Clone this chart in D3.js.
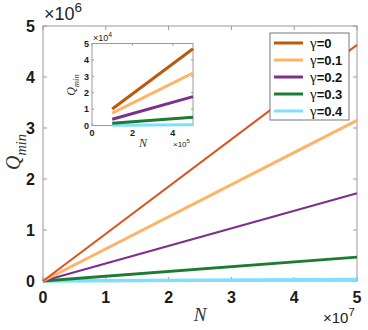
<!DOCTYPE html>
<html>
<head>
<meta charset="utf-8">
<script src="https://d3js.org/d3.v7.min.js"></script>
<style>
  body { margin: 0; background: #fff; }
  text { font-family: "Liberation Sans", Arial, sans-serif; }
</style>
</head>
<body>
<svg width="368" height="330"></svg>
<script>
// main plot: Q_min vs N, straight lines from the origin
var mainN = [0, 5e7];
var mainQ = {
	g0: [0, 4.63e6],
	g1: [0, 3.15e6],
	g2: [0, 1.72e6],
	g3: [0, 0.47e6],
	g4: [0, 0.03e6]
};
// inset: small N range
var insetN = [1e5, 5e5];
var insetQ = {
	g0: [1.01e4, 4.68e4],
	g1: [0.75e4, 3.2e4],
	g2: [0.38e4, 1.76e4],
	g3: [0.14e4, 0.5e4],
	g4: [0.02e4, 0.04e4]
};
var seriesKeys = ["g0", "g1", "g2", "g3", "g4"];
var legendLabels = ["0", "0.1", "0.2", "0.3", "0.4"];
var mainTicksX = [0, 1e7, 2e7, 3e7, 4e7, 5e7];
var mainTicksY = [0, 1e6, 2e6, 3e6, 4e6, 5e6];
var insetTicksX = [0, 2e5, 4e5];
var insetTicksY = [0, 1e4, 2e4, 3e4, 4e4, 5e4];

var mainColors = { g0: "#d9531e", g1: "#ffb366", g2: "#7e2f8e", g3: "#1e7b34", g4: "#80dfff" };
var mainWidths = { g0: 2, g1: 3, g2: 2.2, g3: 2.8, g4: 3.5 };
var insetColors = { g0: "#bb5a0a", g1: "#ffb366", g2: "#7e2f8e", g3: "#1e7b34", g4: "#80dfff" };

var svg = d3.select("svg");
var axisCol = "#9a9a9a";

function drawBox(g, x, y, tx, ty, opt){
	var x0 = x.range()[0], x1 = x.range()[1];
	var y0 = y.range()[0], y1 = y.range()[1];
	g.append("rect")
		.attr("x", x0).attr("y", y1)
		.attr("width", x1 - x0).attr("height", y0 - y1)
		.attr("fill", "#fff")
		.attr("stroke", axisCol)
		.attr("stroke-width", 1);
	var tl = opt.tickLen;
	tx.forEach(function(v){
		g.append("line").attr("x1", x(v)).attr("x2", x(v)).attr("y1", y0).attr("y2", y0 - tl).attr("stroke", axisCol);
		g.append("line").attr("x1", x(v)).attr("x2", x(v)).attr("y1", y1).attr("y2", y1 + tl).attr("stroke", axisCol);
		g.append("text")
			.attr("x", x(v)).attr("y", y0 + opt.xLabOff)
			.attr("text-anchor", "middle")
			.style("font-size", opt.fs + "px").style("font-weight", "bold")
			.attr("fill", "#1a1a1a")
			.text(v / opt.xScale);
	});
	ty.forEach(function(v){
		g.append("line").attr("x1", x0).attr("x2", x0 + tl).attr("y1", y(v)).attr("y2", y(v)).attr("stroke", axisCol);
		g.append("line").attr("x1", x1).attr("x2", x1 - tl).attr("y1", y(v)).attr("y2", y(v)).attr("stroke", axisCol);
		g.append("text")
			.attr("x", x0 - opt.yLabOff).attr("y", y(v))
			.attr("dy", "0.36em")
			.attr("text-anchor", "end")
			.style("font-size", opt.fs + "px").style("font-weight", "bold")
			.attr("fill", "#1a1a1a")
			.text(v / opt.yScale);
	});
}

function expLabel(g, xPos, yPos, exp, fs){
	var t = g.append("text")
		.attr("x", xPos).attr("y", yPos)
		.style("font-size", fs + "px")
		.attr("fill", "#222");
	t.append("tspan").text("\u00d710");
	t.append("tspan").attr("dy", -fs * 0.45).style("font-size", (fs * 0.75) + "px").text(exp);
}

function qLabel(g, xPos, yPos, fs){
	var t = g.append("text")
		.attr("transform", "translate(" + xPos + "," + yPos + ") rotate(-90)")
		.attr("text-anchor", "middle")
		.style("font-family", "'Liberation Serif', serif")
		.style("font-style", "italic")
		.style("font-size", fs + "px")
		.attr("fill", "#333");
	t.append("tspan").text("Q");
	t.append("tspan").attr("dy", fs * 0.3).style("font-size", (fs * 0.72) + "px").text("min");
}

function nLabel(g, xPos, yPos, fs){
	g.append("text")
		.attr("x", xPos).attr("y", yPos)
		.attr("text-anchor", "middle")
		.style("font-family", "'Liberation Serif', serif")
		.style("font-style", "italic")
		.style("font-size", fs + "px")
		.attr("fill", "#333")
		.text("N");
}

// ---- main axes
var x = d3.scaleLinear().domain([0, 5e7]).range([43, 357]);
var y = d3.scaleLinear().domain([0, 5e6]).range([281, 26]);
var main = svg.append("g");
drawBox(main, x, y, mainTicksX, mainTicksY, { tickLen: 4, fs: 16, xLabOff: 22, yLabOff: 8, xScale: 1e7, yScale: 1e6 });

var line = d3.line()
	.x(function(d){ return x(d[0]); })
	.y(function(d){ return y(d[1]); });

seriesKeys.slice().reverse().forEach(function(k){
	var pts = mainN.map(function(n, i){ return [n, mainQ[k][i]]; });
	main.append("path")
		.attr("d", line(pts))
		.attr("fill", "none")
		.attr("stroke", mainColors[k])
		.attr("stroke-width", mainWidths[k]);
});

expLabel(main, 44, 20, "6", 18);
expLabel(main, 323, 323, "7", 15);
nLabel(main, 200, 321, 19);
qLabel(main, 20, 152, 20);

// ---- inset
var xi = d3.scaleLinear().domain([0, 5e5]).range([92, 193]);
var yi = d3.scaleLinear().domain([0, 5e4]).range([125.5, 43.5]);
var inset = svg.append("g");
drawBox(inset, xi, yi, insetTicksX, insetTicksY, { tickLen: 2, fs: 9, xLabOff: 10, yLabOff: 3, xScale: 1e5, yScale: 1e4 });

var lineI = d3.line()
	.x(function(d){ return xi(d[0]); })
	.y(function(d){ return yi(d[1]); });

seriesKeys.slice().reverse().forEach(function(k){
	var pts = insetN.map(function(n, i){ return [n, insetQ[k][i]]; });
	inset.append("path")
		.attr("d", lineI(pts))
		.attr("fill", "none")
		.attr("stroke", insetColors[k])
		.attr("stroke-width", 3);
});

expLabel(inset, 93, 41, "4", 9);
expLabel(inset, 173, 147, "5", 8);
nLabel(inset, 143, 147, 12);
qLabel(inset, 75, 85, 12);

// ---- legend
var leg = svg.append("g");
leg.append("rect")
	.attr("x", 270).attr("y", 33)
	.attr("width", 79).attr("height", 87)
	.attr("fill", "#fff")
	.attr("stroke", "#777")
	.attr("stroke-width", 1);
seriesKeys.forEach(function(k, i){
	var ly = 43 + i * 17;
	leg.append("line")
		.attr("x1", 274).attr("x2", 303)
		.attr("y1", ly).attr("y2", ly)
		.attr("stroke", insetColors[k])
		.attr("stroke-width", 3);
	var t = leg.append("text")
		.attr("x", 310).attr("y", ly)
		.attr("dy", "0.35em")
		.style("font-size", "13px")
		.style("font-weight", "bold")
		.attr("fill", "#111");
	t.append("tspan").style("font-family", "'Liberation Serif', serif").style("font-weight", "normal").style("font-size", "15px").text("\u03b3");
	t.append("tspan").text("=" + legendLabels[i]);
});
</script>
</body>
</html>
